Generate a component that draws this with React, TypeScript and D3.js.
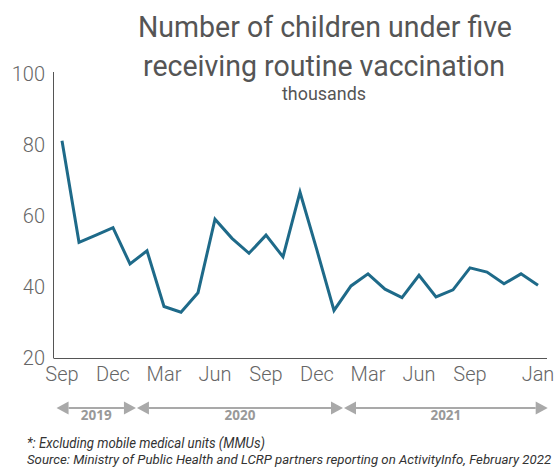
import React, { useEffect, useRef, useState } from 'react'
import * as d3 from 'd3'

// monthly counts, thousands (Sep 2019 .. Jan 2022)
const months = [
  'Sep 2019', 'Oct 2019', 'Nov 2019', 'Dec 2019',
  'Jan 2020', 'Feb 2020', 'Mar 2020', 'Apr 2020', 'May 2020', 'Jun 2020',
  'Jul 2020', 'Aug 2020', 'Sep 2020', 'Oct 2020', 'Nov 2020', 'Dec 2020',
  'Jan 2021', 'Feb 2021', 'Mar 2021', 'Apr 2021', 'May 2021', 'Jun 2021',
  'Jul 2021', 'Aug 2021', 'Sep 2021', 'Oct 2021', 'Nov 2021', 'Dec 2021',
  'Jan 2022',
]
const values = [
  81.2, 52.6, 54.6, 56.7,
  46.5, 50.2, 34.5, 32.9, 38.4, 59.1,
  53.7, 49.5, 54.6, 48.5, 66.7, 50.3,
  33.4, 40.3, 43.7, 39.4, 37.0, 43.3,
  37.2, 39.2, 45.4, 44.2, 40.9, 43.7,
  40.5,
]

const xTickIndex = [0, 3, 6, 9, 12, 15, 18, 21, 24, 28]
const xTickLabels = ['Sep', 'Dec', 'Mar', 'Jun', 'Sep', 'Dec', 'Mar', 'Jun', 'Sep', 'Jan']
const yTicks = [20, 40, 60, 80, 100]

// year brackets below the axis, in month-index units
const years = ['2019', '2020', '2021']
const yearStart = [-0.35, 4.38, 16.56]
const yearEnd = [4.38, 16.56, 28.6]

const W = 560
const H = 471

const App = () => {
  const sourceRef = useRef<SVGTextElement>(null)
  const [sourceScale, setSourceScale] = useState(0.87)

  useEffect(() => {
    // squeeze the source line to the width it has in the original (condensed font)
    const el = sourceRef.current
    if (el) {
      const w = el.getComputedTextLength()
      if (w > 0) setSourceScale(524 / w)
    }
  }, [])

  const x = d3.scaleLinear().domain([0, months.length - 1]).range([62, 538])
  const y = d3.scaleLinear().domain([20, 100]).range([358, 74])

  const line = d3.line<number>()
    .x((d, i) => x(i))
    .y(d => y(d))

  const axisColor = '#555'
  const tickColor = '#666'
  const lineColor = '#1e6a89'
  const bandColor = '#a9a9a9'
  const bandY = 408
  const head = 12

  return (
    <svg width={W} height={H} style={{ position: 'absolute', left: 0, top: 0, background: '#fff' }}
      fontFamily="Roboto, sans-serif">
      {/* title */}
      <text x={325} y={37} textAnchor="middle" fontSize={29} fill="#555"
        textLength={374} lengthAdjust="spacingAndGlyphs">Number of children under five</text>
      <text x={324} y={75.5} textAnchor="middle" fontSize={29} fill="#555"
        textLength={362} lengthAdjust="spacingAndGlyphs">receiving routine vaccination</text>
      <text x={324} y={100} textAnchor="middle" fontSize={18} fill="#555"
        textLength={84} lengthAdjust="spacingAndGlyphs">thousands</text>

      {/* axes */}
      <line x1={53.5} x2={53.5} y1={72} y2={y(20)} stroke={axisColor} strokeWidth={1} />
      <line x1={53.5} x2={547} y1={y(20) + 0.5} y2={y(20) + 0.5} stroke={axisColor} strokeWidth={1} />

      {yTicks.map(t => (
        <text key={t} x={45} y={y(t)} dy="0.35em" textAnchor="end" fontSize={20}
          fontWeight={300} fill={tickColor}>{t}</text>
      ))}
      {xTickIndex.map((idx, i) => (
        <text key={i} x={x(idx)} y={381} textAnchor="middle" fontSize={20}
          fontWeight={300} fill={tickColor}>{xTickLabels[i]}</text>
      ))}

      {/* series */}
      <path d={line(values) || ''} fill="none" stroke={lineColor} strokeWidth={3}
        strokeLinejoin="miter" />

      {/* year brackets */}
      {years.map((yr, i) => {
        const x0 = x(yearStart[i]) + 0.5
        const x1 = x(yearEnd[i]) - 0.5
        return (
          <g key={yr}>
            <line x1={x0 + head} x2={x1 - head} y1={bandY} y2={bandY} stroke={bandColor} strokeWidth={2} />
            <path d={`M${x0},${bandY}L${x0 + head},${bandY - 6.5}L${x0 + head},${bandY + 6.5}Z`} fill={bandColor} />
            <path d={`M${x1},${bandY}L${x1 - head},${bandY - 6.5}L${x1 - head},${bandY + 6.5}Z`} fill={bandColor} />
            <text x={(x0 + x1) / 2} y={419.5} textAnchor="middle" fontSize={13.5} fontWeight={700}
              fontFamily="'Open Sans', sans-serif" fill="#999">{yr}</text>
          </g>
        )
      })}

      {/* notes */}
      <text x={27} y={448} fontSize={14} fontStyle="italic" fill="#333"
        textLength={238} lengthAdjust="spacingAndGlyphs">*: Excluding mobile medical units (MMUs)</text>
      <text ref={sourceRef} x={0} y={0} fontSize={13.5} fontStyle="italic" fill="#333"
        transform={`translate(27,463.5) scale(${sourceScale},1)`}>Source: Ministry of Public Health and LCRP partners reporting on ActivityInfo, February 2022</text>
    </svg>
  )
}

export default App
